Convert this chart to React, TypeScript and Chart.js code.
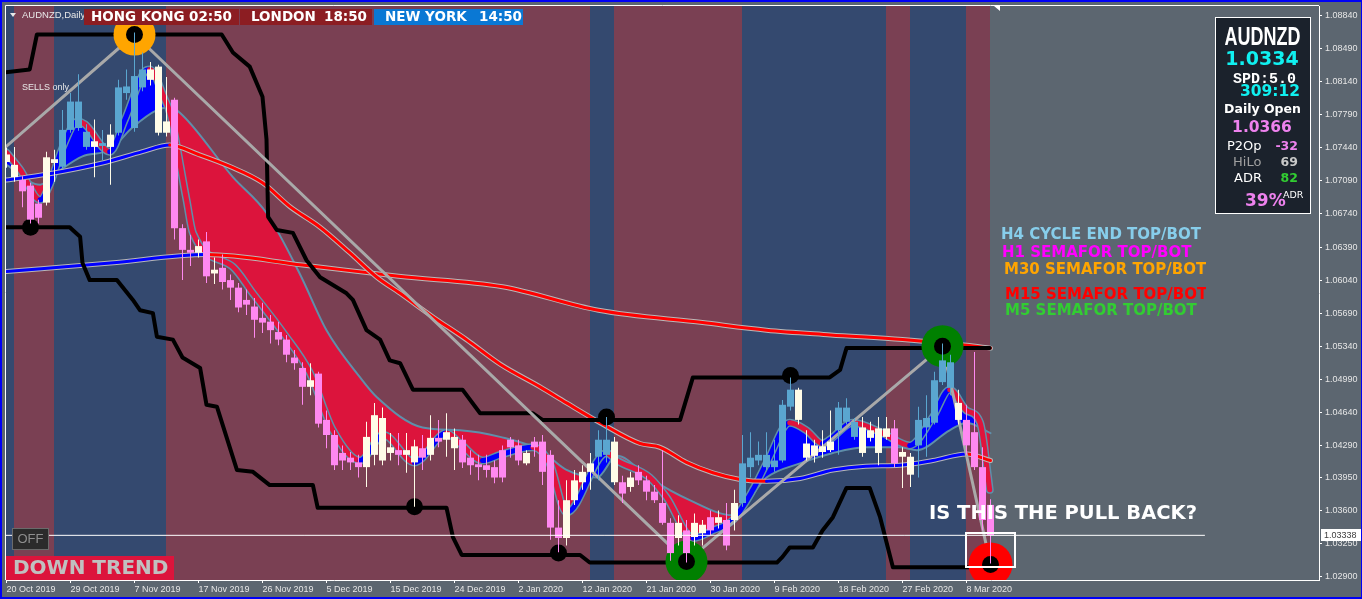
import React, { useEffect, useRef } from 'react';
import { Chart, registerables } from 'chart.js';

Chart.register(...registerables);

const W = 1362;
const H = 599;

// ===================== DATA =====================
// Daily candles, bar 0 = 20 Oct 2019 ... bar 123 = last (current) bar
const OPEN = [
  1.0737, 1.0713, 1.071, 1.0704, 1.0685, 1.0686, 1.0732, 1.0724, 1.0763, 1.0765,
  1.0745, 1.0751, 1.0746, 1.0758, 1.076, 1.0802, 1.0765, 1.0808, 1.0827, 1.083,
  1.076, 1.0795, 1.0659, 1.0636, 1.0633, 1.0645, 1.0611, 1.0617, 1.0604, 1.0596,
  1.0583, 1.0576, 1.0564, 1.056, 1.0549, 1.0541, 1.0522, 1.0511, 1.0491, 1.0505,
  1.0456, 1.044, 1.0421, 1.0416, 1.0411, 1.0406, 1.0419, 1.0413, 1.0421, 1.0424,
  1.0419, 1.0411, 1.0426, 1.0419, 1.0437, 1.0435, 1.0426, 1.0435, 1.0416, 1.0409,
  1.0408, 1.0406, 1.0424, 1.0435, 1.0429, 1.041, 1.0433, 1.0433, 1.0419, 1.0342,
  1.0331, 1.0371, 1.039, 1.041, 1.0417, 1.0419, 1.039, 1.039, 1.0385, 1.0401,
  1.0392, 1.038, 1.0368, 1.0347, 1.0331, 1.0339, 1.0332, 1.0336, 1.0353, 1.0347,
  1.035, 1.035, 1.0368, 1.0406, 1.0413, 1.0406, 1.0406, 1.0413, 1.047, 1.0488,
  1.0431, 1.0429, 1.0428, 1.0433, 1.0445, 1.0454, 1.0438, 1.0448, 1.0445, 1.0447,
  1.0438, 1.0447, 1.0417, 1.0417, 1.0429, 1.0448, 1.0453, 1.0496, 1.049, 1.0474,
  1.0456, 1.0443, 1.0406, 1.0366,
];
const HIGH = [
  1.0744, 1.0745, 1.0714, 1.0707, 1.0689, 1.074, 1.0742, 1.0784, 1.0802, 1.0822,
  1.0769, 1.0774, 1.0763, 1.0769, 1.0816, 1.0827, 1.0866, 1.0845, 1.0835, 1.0832,
  1.0819, 1.0797, 1.0663, 1.0652, 1.0647, 1.0655, 1.0628, 1.0631, 1.061, 1.0601,
  1.0594, 1.0585, 1.058, 1.0567, 1.056, 1.0546, 1.053, 1.0517, 1.0516, 1.0507,
  1.0466, 1.0445, 1.0429, 1.0422, 1.0419, 1.0454, 1.0474, 1.0469, 1.0442, 1.0442,
  1.0442, 1.0435, 1.044, 1.0461, 1.0456, 1.0463, 1.0447, 1.044, 1.0424, 1.0419,
  1.0419, 1.0413, 1.0429, 1.0438, 1.0435, 1.0424, 1.0438, 1.044, 1.0424, 1.0371,
  1.0392, 1.0403, 1.0408, 1.0421, 1.0445, 1.0459, 1.0438, 1.0397, 1.0401, 1.0408,
  1.0397, 1.0387, 1.0424, 1.0352, 1.0355, 1.035, 1.0357, 1.035, 1.036, 1.036,
  1.0368, 1.0382, 1.044, 1.0443, 1.0433, 1.0443, 1.0435, 1.0477, 1.0501, 1.049,
  1.0445, 1.0435, 1.0445, 1.0466, 1.0475, 1.0479, 1.0458, 1.0459, 1.0454, 1.0459,
  1.0459, 1.0456, 1.0427, 1.0421, 1.047, 1.0482, 1.0507, 1.0537, 1.0525, 1.0488,
  1.0472, 1.0528, 1.0427, 1.0372,
];
const LOW = [
  1.0723, 1.0708, 1.0681, 1.0664, 1.0664, 1.0683, 1.0708, 1.0722, 1.076, 1.0762,
  1.0742, 1.0713, 1.0731, 1.0705, 1.0757, 1.0795, 1.0761, 1.0804, 1.081, 1.0757,
  1.0756, 1.0647, 1.0604, 1.0619, 1.0628, 1.0601, 1.06, 1.0594, 1.0583, 1.057,
  1.0567, 1.0543, 1.0548, 1.0537, 1.0535, 1.0517, 1.0509, 1.0472, 1.0482, 1.0448,
  1.0426, 1.0403, 1.0403, 1.0403, 1.0395, 1.0385, 1.0408, 1.0408, 1.0413, 1.0408,
  1.04, 1.0364, 1.0403, 1.0413, 1.0427, 1.0417, 1.0403, 1.0405, 1.0398, 1.0392,
  1.0395, 1.0389, 1.039, 1.0416, 1.0408, 1.0408, 1.0417, 1.0387, 1.0329, 1.0316,
  1.0323, 1.0366, 1.0382, 1.0382, 1.0392, 1.0411, 1.0387, 1.0368, 1.038, 1.0387,
  1.0371, 1.0368, 1.0345, 1.0307, 1.0323, 1.0305, 1.0323, 1.0323, 1.0334, 1.0341,
  1.0318, 1.0339, 1.0364, 1.0395, 1.0408, 1.0403, 1.0401, 1.0411, 1.0466, 1.0451,
  1.0413, 1.0411, 1.0416, 1.0422, 1.0419, 1.0451, 1.0435, 1.0417, 1.0433, 1.0408,
  1.0435, 1.0406, 1.0384, 1.0385, 1.0395, 1.0417, 1.0451, 1.0493, 1.0482, 1.0451,
  1.0419, 1.0403, 1.0339, 1.0304,
];
const CLOSE = [
  1.0729, 1.0726, 1.0698, 1.0668, 1.067, 1.0734, 1.0728, 1.0763, 1.0793, 1.0793,
  1.0761, 1.0745, 1.0749, 1.0745, 1.0808, 1.0809, 1.082, 1.0827, 1.0816, 1.076,
  1.0772, 1.0659, 1.0636, 1.0633, 1.064, 1.0608, 1.0615, 1.0602, 1.0596, 1.0575,
  1.0578, 1.0562, 1.0559, 1.0551, 1.0541, 1.0525, 1.0516, 1.0491, 1.0498, 1.0452,
  1.044, 1.0408, 1.0413, 1.0411, 1.0406, 1.0438, 1.0461, 1.0458, 1.0427, 1.0419,
  1.0424, 1.0428, 1.0416, 1.0437, 1.0433, 1.0443, 1.0438, 1.0411, 1.0408, 1.0406,
  1.0403, 1.0395, 1.0395, 1.0427, 1.0413, 1.0421, 1.0427, 1.0401, 1.0342, 1.0331,
  1.0371, 1.0392, 1.0401, 1.0401, 1.0435, 1.0435, 1.0433, 1.0378, 1.0395, 1.0392,
  1.038, 1.0371, 1.0347, 1.0315, 1.0347, 1.0315, 1.0347, 1.0345, 1.0339, 1.0353,
  1.0323, 1.0368, 1.041, 1.0416, 1.0419, 1.0419, 1.0413, 1.0472, 1.0488, 1.0456,
  1.0416, 1.0418, 1.0422, 1.0424, 1.0469, 1.0469, 1.0454, 1.0421, 1.0437, 1.0421,
  1.0447, 1.041, 1.0422, 1.0398, 1.0456, 1.0458, 1.0498, 1.0519, 1.0517, 1.0456,
  1.0429, 1.0406, 1.035, 1.0334,
];

// trend regime shading (bar ranges)
const REGIME_BANDS: [number, number, string][] = [
  [-1, 0.9, 'up'],
  [0.9, 5.9, 'down'],
  [5.9, 19.9, 'up'],
  [19.9, 72.9, 'down'],
  [72.9, 75.9, 'up'],
  [75.9, 91.9, 'down'],
  [91.9, 109.9, 'up'],
  [109.9, 112.9, 'down'],
  [112.9, 119.9, 'up'],
  [119.9, 122.9, 'down'],
];

const X_TICK_BARS = [0, 8, 16, 24, 32, 40, 48, 56, 64, 72, 80, 88, 96, 104, 112, 120];
const X_TICK_LABELS = [
  '20 Oct 2019', '29 Oct 2019', '7 Nov 2019', '17 Nov 2019', '26 Nov 2019', '5 Dec 2019',
  '15 Dec 2019', '24 Dec 2019', '2 Jan 2020', '12 Jan 2020', '21 Jan 2020', '30 Jan 2020',
  '9 Feb 2020', '18 Feb 2020', '27 Feb 2020', '8 Mar 2020',
];
const Y_TICKS = [
  1.0884, 1.0849, 1.0814, 1.0779, 1.0744, 1.0709, 1.0674, 1.0639, 1.0604,
  1.0569, 1.0534, 1.0499, 1.0464, 1.0429, 1.0395, 1.036, 1.0325, 1.029,
];

// indicator lines: [bar, price]
const LONG_MA = [
  [0, 1.0613], [13, 1.0622], [25, 1.0631], [37, 1.062], [49, 1.0608], [62, 1.0597],
  [74, 1.0572], [87, 1.0559], [95, 1.0551], [103, 1.0546], [112, 1.0541], [120, 1.0535], [123, 1.0532],
];
const MID_MA = [
  [0, 1.071], [5, 1.0716], [12, 1.0728], [17, 1.074], [20.4, 1.0747], [24, 1.0737], [28, 1.0724],
  [32, 1.0707], [35.4, 1.0682], [39.2, 1.066], [42.9, 1.0633], [46.3, 1.0607], [49.2, 1.059],
  [53.3, 1.0565], [57.5, 1.0541], [61.7, 1.0515], [66.7, 1.0491], [70, 1.0474], [74.2, 1.0453],
  [79.2, 1.0431], [81.7, 1.0427], [85, 1.0411], [88.3, 1.04], [91.7, 1.0393], [95, 1.0391],
  [99.2, 1.0394], [103.3, 1.0403], [107.4, 1.0407], [111.7, 1.0408], [115.8, 1.0413], [120, 1.042], [123, 1.0413],
];
const FAST_LINE = [
  [0, 1.0739], [1.7, 1.0721], [4.2, 1.0689], [5.4, 1.0705], [6.9, 1.0742], [8.9, 1.0772], [9.8, 1.0769],
  [12.9, 1.074], [14.8, 1.0774], [17.3, 1.0825], [17.9, 1.0827], [19.8, 1.0795], [20.4, 1.0782],
  [22.5, 1.0689], [23.3, 1.0654], [28.3, 1.0618], [30.8, 1.059], [34.6, 1.0548], [37.9, 1.0506],
  [40.8, 1.0445], [44.2, 1.0413], [47.1, 1.044], [51, 1.0411], [55, 1.0442], [56.7, 1.0431],
  [59.5, 1.0413], [61.7, 1.0419], [65.8, 1.0427], [67.9, 1.041], [70, 1.0358], [75, 1.0421],
  [76.3, 1.0413], [80.4, 1.0395], [82.5, 1.0374], [85.8, 1.0331], [88.3, 1.0339], [90.8, 1.035],
  [93.3, 1.0382], [95, 1.041], [97.9, 1.0453], [100, 1.0445], [102, 1.0431], [102.9, 1.0435],
  [105.8, 1.0453], [109.5, 1.0442], [112.9, 1.0429], [115.8, 1.0459], [117.9, 1.0488], [120, 1.0466],
  [121.7, 1.0453], [122.9, 1.0382],
];
const SLOW_LINE = [
  [0, 1.0726], [4.2, 1.0705], [6.3, 1.0718], [9.5, 1.0735], [12.9, 1.0742], [15.8, 1.0766],
  [18.8, 1.0784], [20.4, 1.0787], [21.7, 1.0781], [28.3, 1.0713], [32.5, 1.0675], [36.7, 1.061],
  [40, 1.0551], [44.2, 1.0501], [46.3, 1.048], [52, 1.0448], [56.7, 1.0445], [61.7, 1.0438],
  [66.7, 1.0424], [70, 1.0403], [73.8, 1.0395], [76.3, 1.0418], [80.4, 1.0394], [85.4, 1.0371],
  [90.8, 1.0355], [95, 1.0395], [99.2, 1.041], [103.3, 1.0421], [107.5, 1.0427], [111.7, 1.0427],
  [113.8, 1.0424], [117.9, 1.0445], [120, 1.0453], [123, 1.0442],
];
const DONCHIAN_UPPER = [
  [-0.1, 1.0824], [2.9, 1.0827], [3.8, 1.0864], [26.9, 1.0864], [28.3, 1.0845], [30.4, 1.083],
  [32, 1.0798], [32.5, 1.0753], [32.7, 1.0671], [33.8, 1.0657], [35.8, 1.0654], [37.5, 1.0625],
  [39.2, 1.0607], [42.5, 1.059], [43.3, 1.0583], [45, 1.0551], [46.7, 1.0541], [47.9, 1.0519],
  [49.2, 1.0516], [50.8, 1.0488], [57, 1.0488], [59.2, 1.0463], [65.8, 1.0463], [67, 1.0456],
  [84.2, 1.0456], [85.8, 1.0501], [102.9, 1.0501], [104.2, 1.0509], [105, 1.0532], [122.9, 1.0532],
];
const DONCHIAN_LOWER = [
  [-0.1, 1.066], [7.9, 1.066], [9.2, 1.065], [9.5, 1.0622], [10.4, 1.0604], [13.8, 1.0604],
  [15.8, 1.0583], [16.7, 1.0572], [18.3, 1.0569], [18.8, 1.0544], [20.8, 1.0541], [22, 1.0522],
  [24.2, 1.0511], [25, 1.0472], [26.3, 1.047], [28.8, 1.0403], [30.8, 1.0401], [32.9, 1.0387],
  [38.3, 1.0387], [38.9, 1.0363], [55, 1.0363], [55.8, 1.0332], [56.9, 1.0313], [71.7, 1.0313],
  [72.9, 1.0305], [96.3, 1.0305], [97, 1.0311], [97.9, 1.0321], [100.8, 1.0321], [102, 1.0339],
  [103.3, 1.0353], [105, 1.0384], [107.9, 1.0384], [109.2, 1.0353], [110.8, 1.03], [122.9, 1.03],
];
const ZIGZAG = [[-0.1, 1.0745], [16, 1.0864], [85, 1.0306], [117, 1.0534], [123, 1.0303]];
const SEMAFOR_M30 = [[16, 1.0864]];
const SEMAFOR_M5 = [[85, 1.0306], [117, 1.0534]];
const SEMAFOR_M15 = [[123, 1.0303]];
const SEMAFOR_DOTS = [
  [3, 1.066], [16, 1.0864], [51, 1.0364], [69, 1.0315], [75, 1.0459],
  [85, 1.0306], [98, 1.0503], [117, 1.0534], [123, 1.0303],
];
const BID = 1.03338;
const BID_LINE_END = 149.8;
const SYMBOL = 'AUDNZD';
const PANEL_PRICE = '1.0334';
const PANEL_SPREAD = 'SPD:5.0';
const PANEL_TIMER = '309:12';
const PANEL_DAILY_OPEN = '1.0366';
const PANEL_P2OP = '-32';
const PANEL_HILO = '69';
const PANEL_ADR = '82';
const PANEL_ADR_PCT = '39%';
const SESSIONS = [
  { name: 'HONG KONG', time: '02:50' },
  { name: 'LONDON', time: '18:50' },
  { name: 'NEW YORK', time: '14:50' },
];
const LEGEND_LINES = [
  { text: 'H4 CYCLE END TOP/BOT', color: '#87CEEB' },
  { text: 'H1 SEMAFOR TOP/BOT', color: '#FF00FF' },
  { text: 'M30 SEMAFOR TOP/BOT', color: '#FFA500' },
  { text: 'M15 SEMAFOR TOP/BOT', color: '#FF0000' },
  { text: 'M5 SEMAFOR TOP/BOT', color: '#32CD32' },
];

// ===================== STYLE =====================
const C_BG = '#5C6670';
const C_MAROON = '#7A4053';
const C_NAVY = '#34496F';
const C_BLUE_CANDLE = '#5AA6D0';
const C_PINK_CANDLE = '#FF88F0';
const C_IVORY_CANDLE = '#FFFCE8';
const C_TEAL = '#5F8FAA';
const C_MA_EDGE = '#B8B8B8';

const X_MIN = -0.0625;
const X_MAX = X_MIN + 1313 / 8;
const Y_MIN = 1.028651;
const Y_MAX = 1.089417;

const DJ = '"DejaVu Sans"';
const LS = '"Liberation Sans"';

function regimeOf(i: number): string {
  for (const [a, b, r] of REGIME_BANDS) if (i >= a && i < b) return r;
  return 'down';
}
function candleColor(i: number): string {
  const bull = CLOSE[i] >= OPEN[i];
  const up = regimeOf(i) === 'up';
  if (up) return bull ? C_BLUE_CANDLE : C_IVORY_CANDLE;
  return bull ? C_IVORY_CANDLE : C_PINK_CANDLE;
}
const pts = (arr: number[][]) => arr.map(([x, y]) => ({ x, y }));
const slopeColor = (up: string, down: string) => (ctx: any) =>
  ctx.p1.parsed.y >= ctx.p0.parsed.y ? up : down;

function txt(ctx: any, s: string, x: number, y: number, font: string, color: string, align = 'left', baseline = 'middle') {
  ctx.font = font;
  ctx.fillStyle = color;
  ctx.textAlign = align;
  ctx.textBaseline = baseline;
  ctx.fillText(s, x, y);
}

const bandsPlugin = {
  id: 'bands',
  beforeDraw(chart: any) {
    const { ctx, chartArea } = chart;
    const xs = chart.scales.x;
    ctx.save();
    ctx.fillStyle = C_BG;
    ctx.fillRect(0, 0, chart.width, chart.height);
    for (const [a, b, r] of REGIME_BANDS) {
      const x0 = Math.max(Math.round(xs.getPixelForValue(a)), chartArea.left);
      const x1 = Math.round(xs.getPixelForValue(b));
      ctx.fillStyle = r === 'up' ? C_NAVY : C_MAROON;
      ctx.fillRect(x0, chartArea.top, x1 - x0, chartArea.bottom - chartArea.top);
    }
    ctx.restore();
  },
};

const overlayPlugin = {
  id: 'overlay',
  afterDraw(chart: any) {
    const { ctx, chartArea } = chart;
    const xs = chart.scales.x;
    const ys = chart.scales.y;
    ctx.save();

    // frame
    ctx.strokeStyle = '#FFFFFF';
    ctx.lineWidth = 1;
    ctx.beginPath();
    ctx.moveTo(chartArea.left - 0.5, chartArea.bottom);
    ctx.lineTo(chartArea.left - 0.5, chartArea.top - 0.5);
    ctx.lineTo(chartArea.right, chartArea.top - 0.5);
    ctx.stroke();
    ctx.fillStyle = '#0000F5';
    ctx.fillRect(0, 0, W, 2);
    ctx.fillRect(0, 0, 2, H);
    ctx.fillRect(0, H - 2, W, 2);
    ctx.fillRect(W - 1, 0, 1, H);

    // chart shift marker
    ctx.fillStyle = '#FFFFFF';
    ctx.beginPath();
    ctx.moveTo(994, 6);
    ctx.lineTo(1000, 6);
    ctx.lineTo(1000, 11);
    ctx.closePath();
    ctx.fill();

    // symbol caption
    ctx.fillStyle = '#E8E8E8';
    ctx.beginPath();
    ctx.moveTo(10, 13);
    ctx.lineTo(16, 13);
    ctx.lineTo(13, 17);
    ctx.closePath();
    ctx.fill();
    txt(ctx, SYMBOL + ',Daily', 22, 15.5, `9.5px ${LS}`, '#E8E8E8');
    txt(ctx, 'SELLS only', 22, 88, `9px ${LS}`, '#E8E8E8');

    // sessions
    const boxes = [
      { x: 84, w: 155, c: '#8C1D22', tx: 7, tt: 105 },
      { x: 240, w: 132, c: '#8C1D22', tx: 11, tt: 84 },
      { x: 374, w: 149, c: '#0A78D4', tx: 11, tt: 105 },
    ];
    boxes.forEach((b, i) => {
      ctx.fillStyle = b.c;
      ctx.fillRect(b.x, 9, b.w, 16);
      txt(ctx, SESSIONS[i].name, b.x + b.tx, 17.5, `bold 13.5px ${DJ}`, '#FFFFFF');
      txt(ctx, SESSIONS[i].time, b.x + b.tt, 17.5, `bold 13.5px ${DJ}`, '#FFFFFF');
    });

    // info panel
    ctx.fillStyle = '#1B222C';
    ctx.fillRect(1215, 17, 96, 197);
    ctx.strokeStyle = '#FFFFFF';
    ctx.strokeRect(1215.5, 17.5, 95, 196);
    ctx.save();
    ctx.translate(1262.5, 38);
    ctx.scale(1, 1.42);
    txt(ctx, SYMBOL, 0, 0, `bold 18px ${LS}`, '#FFFFFF', 'center');
    ctx.restore();
    txt(ctx, PANEL_PRICE, 1262, 60, `bold 19px ${DJ}`, '#10F0F0', 'center');
    txt(ctx, PANEL_SPREAD, 1264.5, 79, 'bold 15px "Liberation Mono"', '#FFFFFF', 'center');
    txt(ctx, PANEL_TIMER, 1270, 92, `bold 15.5px ${DJ}`, '#10F0F0', 'center');
    txt(ctx, 'Daily Open', 1262.5, 109.5, `bold 12.5px ${DJ}`, '#FFFFFF', 'center');
    txt(ctx, PANEL_DAILY_OPEN, 1262, 128, `bold 15.5px ${DJ}`, '#EE82EE', 'center');
    txt(ctx, 'P2Op', 1227, 147, `13px ${DJ}`, '#FFFFFF');
    txt(ctx, PANEL_P2OP, 1298, 147, `bold 12.5px ${DJ}`, '#EE82EE', 'right');
    txt(ctx, 'HiLo', 1233, 163, `13px ${DJ}`, '#A0A0A0');
    txt(ctx, PANEL_HILO, 1298, 163, `bold 12.5px ${DJ}`, '#C8C8C8', 'right');
    txt(ctx, 'ADR', 1234, 179, `13px ${DJ}`, '#FFFFFF');
    txt(ctx, PANEL_ADR, 1298, 179, `bold 12.5px ${DJ}`, '#32CD32', 'right');
    txt(ctx, PANEL_ADR_PCT, 1245, 202, `bold 17px ${DJ}`, '#EE82EE');
    txt(ctx, 'ADR', 1283, 196, `9.5px ${DJ}`, '#FFFFFF');

    // legend (clipped like the original)
    ctx.save();
    ctx.beginPath();
    ctx.rect(995, 222, 211, 100);
    ctx.clip();
    const legY = [235.5, 253, 270, 295, 311];
    const legX = [1001, 1002, 1004, 1005, 1005];
    LEGEND_LINES.forEach((l, i) => txt(ctx, l.text, legX[i], legY[i], `bold 15px ${DJ}`, l.color));
    ctx.restore();

    // annotation
    txt(ctx, 'IS THIS THE PULL BACK?', 929, 514, `bold 19.5px ${DJ}`, '#FFFFFF');
    const bx0 = Math.round(xs.getPixelForValue(119.9));
    const bx1 = Math.round(xs.getPixelForValue(126));
    const by0 = Math.round(ys.getPixelForValue(1.0336));
    const by1 = Math.round(ys.getPixelForValue(1.03));
    ctx.strokeStyle = '#FFFFFF';
    ctx.lineWidth = 2;
    ctx.strokeRect(bx0, by0, bx1 - bx0, by1 - by0);

    // OFF button & trend label
    ctx.lineWidth = 1;
    ctx.fillStyle = '#2B2B2B';
    ctx.fillRect(12, 528, 37, 22);
    ctx.strokeStyle = '#6A6A6A';
    ctx.strokeRect(12.5, 528.5, 36, 21);
    txt(ctx, 'OFF', 30.5, 539.5, `13px ${LS}`, '#8E8E8E', 'center');
    ctx.fillStyle = '#DC143C';
    ctx.fillRect(6, 556, 168, 24);
    txt(ctx, 'DOWN TREND', 13, 569, `bold 20px ${DJ}`, '#C0C0C0');

    // bid label on the price axis
    const py = ys.getPixelForValue(BID);
    ctx.fillStyle = '#FFFFFF';
    ctx.fillRect(1321, Math.round(py) - 6, 40, 12);
    txt(ctx, BID.toFixed(5), 1324, py + 0.5, `9px ${LS}`, '#404040');

    ctx.restore();
  },
};

function lineDs(data: number[][], extra: any) {
  return {
    type: 'line',
    data: pts(data),
    pointRadius: 0,
    pointHoverRadius: 0,
    borderCapStyle: 'round',
    borderJoinStyle: 'round',
    fill: false,
    ...extra,
  };
}
function dotDs(data: number[][], radius: number, color: string, order: number) {
  return {
    type: 'line',
    data: pts(data),
    showLine: false,
    pointRadius: radius,
    pointHoverRadius: radius,
    pointBackgroundColor: color,
    pointBorderWidth: 0,
    clip: 0,
    order,
  };
}

function buildConfig() {
  const idx = OPEN.map((_, i) => i);
  const datasets: any[] = [
    // 0: ribbon fill
    lineDs(FAST_LINE, {
      borderWidth: 0,
      borderColor: 'rgba(0,0,0,0)',
      cubicInterpolationMode: 'monotone',
      fill: { target: 1, above: '#0000FF', below: '#DC143C' },
      order: 40,
    }),
    // 1: slow ribbon edge
    lineDs(SLOW_LINE, { borderWidth: 2, borderColor: C_TEAL, cubicInterpolationMode: 'monotone', order: 39 }),
    // 2-3: fast ribbon edge
    lineDs(FAST_LINE, { borderWidth: 8, borderColor: C_TEAL, cubicInterpolationMode: 'monotone', order: 38 }),
    lineDs(FAST_LINE, {
      borderWidth: 5,
      borderColor: '#DC143C',
      cubicInterpolationMode: 'monotone',
      segment: { borderColor: slopeColor('#0000FF', '#E0143C') },
      order: 37,
    }),
    // long MA
    lineDs(LONG_MA, { borderWidth: 5, borderColor: C_MA_EDGE, cubicInterpolationMode: 'monotone', order: 36 }),
    lineDs(LONG_MA, {
      borderWidth: 3,
      borderColor: '#FF0000',
      cubicInterpolationMode: 'monotone',
      segment: { borderColor: slopeColor('#0000FF', '#FF0000') },
      order: 35,
    }),
    // mid MA
    lineDs(MID_MA, { borderWidth: 5, borderColor: C_MA_EDGE, cubicInterpolationMode: 'monotone', order: 34 }),
    lineDs(MID_MA, {
      borderWidth: 3,
      borderColor: '#FF0000',
      cubicInterpolationMode: 'monotone',
      segment: { borderColor: slopeColor('#0000FF', '#FF0000') },
      order: 33,
    }),
    // donchian
    lineDs(DONCHIAN_UPPER, { borderWidth: 4, borderColor: '#000000', order: 32 }),
    lineDs(DONCHIAN_LOWER, { borderWidth: 4, borderColor: '#000000', order: 31 }),
    // zigzag
    lineDs(ZIGZAG, { borderWidth: 3, borderColor: '#A9A9A9', order: 30 }),
    // semafors
    dotDs(SEMAFOR_M30, 21, '#FFA500', 29),
    dotDs(SEMAFOR_M5, 21, '#008000', 28),
    dotDs(SEMAFOR_M15, 22, '#FF0000', 27),
    dotDs(SEMAFOR_DOTS, 8.5, '#000000', 26),
    // candles
    {
      type: 'bar',
      data: idx.map((i) => ({ x: i, y: [LOW[i], HIGH[i]] })),
      backgroundColor: (c: any) => candleColor(c.dataIndex),
      borderWidth: 0,
      barThickness: 1,
      grouped: false,
      inflateAmount: 0,
      order: 3,
    },
    {
      type: 'bar',
      data: idx.map((i) => ({ x: i, y: [OPEN[i], CLOSE[i]] })),
      backgroundColor: (c: any) => candleColor(c.dataIndex),
      borderWidth: 0,
      barThickness: 7,
      minBarLength: 1,
      grouped: false,
      inflateAmount: 0,
      order: 2,
    },
    // bid line
    lineDs([[-1, BID], [BID_LINE_END, BID]], { borderWidth: 1, borderColor: '#FFFFFF', borderCapStyle: 'butt', order: 1 }),
  ];

  return {
    type: 'line',
    data: { datasets },
    options: {
      animation: false,
      responsive: false,
      maintainAspectRatio: false,
      devicePixelRatio: 1,
      events: [],
      layout: { autoPadding: false, padding: { left: 6, top: 6, right: 0, bottom: 0 } },
      plugins: { legend: { display: false }, tooltip: { enabled: false } },
      scales: {
        x: {
          type: 'linear',
          min: X_MIN,
          max: X_MAX,
          offset: false,
          afterBuildTicks: (s: any) => {
            s.ticks = X_TICK_BARS.map((v) => ({ value: v }));
          },
          afterFit: (s: any) => {
            s.height = 19;
            s.paddingLeft = 0;
            s.paddingRight = 0;
          },
          ticks: {
            autoSkip: false,
            maxRotation: 0,
            minRotation: 0,
            align: 'start',
            padding: 1,
            color: '#E6E6E6',
            font: { family: 'Liberation Sans', size: 9 },
            callback: (_v: any, i: number) => X_TICK_LABELS[i],
          },
          grid: { drawOnChartArea: false, drawTicks: true, tickLength: 3, color: '#FFFFFF', offset: false },
          border: { display: true, color: '#FFFFFF', width: 1 },
        },
        y: {
          type: 'linear',
          position: 'right',
          min: Y_MIN,
          max: Y_MAX,
          afterBuildTicks: (s: any) => {
            s.ticks = Y_TICKS.map((v) => ({ value: v }));
          },
          afterFit: (s: any) => {
            s.width = 43;
            s.paddingTop = 0;
            s.paddingBottom = 0;
          },
          ticks: {
            autoSkip: false,
            padding: 3,
            color: '#E6E6E6',
            font: { family: 'Liberation Sans', size: 9 },
            callback: (v: any) => Number(v).toFixed(5),
          },
          grid: { drawOnChartArea: false, drawTicks: true, tickLength: 3, color: '#FFFFFF' },
          border: { display: true, color: '#FFFFFF', width: 1 },
        },
      },
    },
    plugins: [bandsPlugin, overlayPlugin],
  };
}

export default function App() {
  const canvasRef = useRef<HTMLCanvasElement | null>(null);
  useEffect(() => {
    const canvas = canvasRef.current;
    if (!canvas) return;
    const chart = new Chart(canvas, buildConfig() as any);
    return () => chart.destroy();
  }, []);
  return (
    <div style={{ position: 'fixed', left: 0, top: 0, width: W, height: H, background: C_BG }}>
      <canvas ref={canvasRef} width={W} height={H} style={{ display: 'block', width: W, height: H }} />
    </div>
  );
}
